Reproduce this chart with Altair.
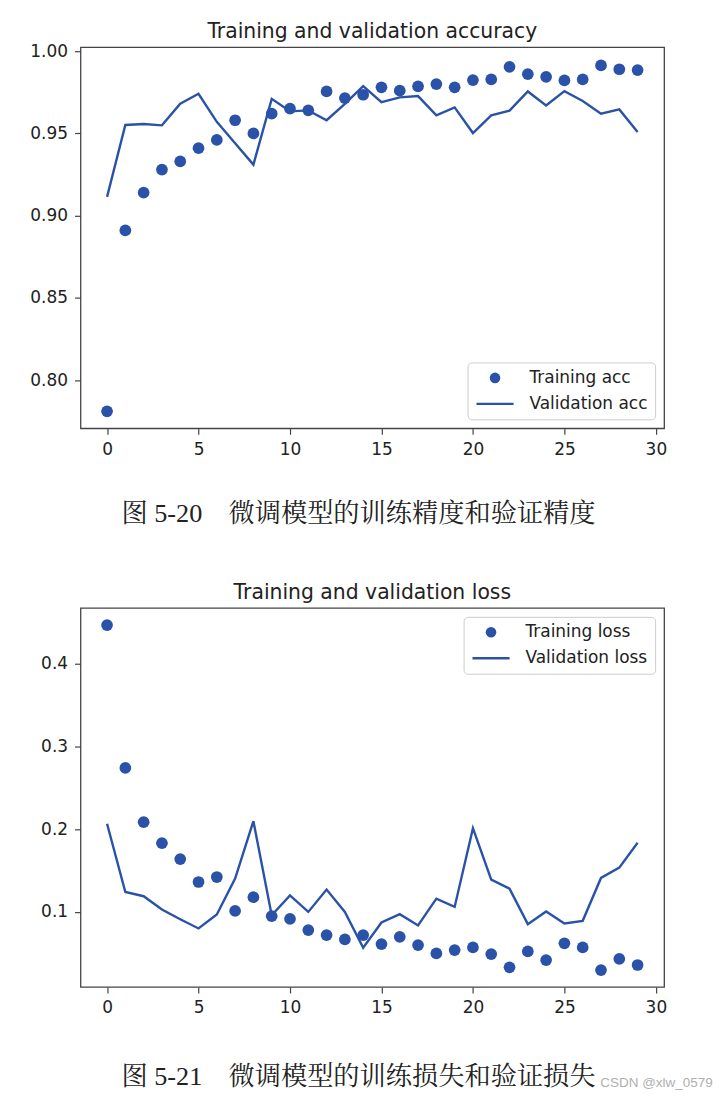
import altair as alt
import pandas as pd

BLUE = "#2a52a8"
FONT = "DejaVu Sans"
CAP_FONT = "'Liberation Serif', 'Noto Serif CJK SC', 'Noto Sans CJK SC'"

epochs = list(range(30))
train_acc = [0.781, 0.891, 0.914, 0.928, 0.933, 0.941, 0.946, 0.958, 0.950, 0.962,
             0.965, 0.964, 0.9755, 0.9715, 0.9735, 0.978, 0.976, 0.9786, 0.980, 0.978,
             0.9824, 0.9828, 0.9905, 0.986, 0.9844, 0.9822, 0.9828, 0.9913, 0.989, 0.9885]
val_acc = [0.9114, 0.9551, 0.9557, 0.9549, 0.968, 0.9741, 0.957, 0.944, 0.931, 0.971,
           0.9634, 0.964, 0.958, 0.968, 0.9788, 0.969, 0.9719, 0.9727, 0.961, 0.9658,
           0.9502, 0.961, 0.9638, 0.9755, 0.967, 0.9757, 0.9697, 0.962, 0.9646, 0.9508]
train_loss = [0.4462, 0.2738, 0.2083, 0.183, 0.1638, 0.1361, 0.1421, 0.1012, 0.1177, 0.0948,
              0.0916, 0.078, 0.072, 0.0668, 0.072, 0.0611, 0.0699, 0.0599, 0.0499, 0.0539,
              0.0571, 0.0491, 0.0331, 0.0523, 0.0419, 0.062, 0.0571, 0.0298, 0.0434, 0.0359]
val_loss = [0.2064, 0.124, 0.1189, 0.1029, 0.0912, 0.08, 0.0969, 0.1402, 0.2095, 0.096,
            0.120, 0.100, 0.127, 0.100, 0.0567, 0.0872, 0.0972, 0.0836, 0.116, 0.106,
            0.2011, 0.139, 0.128, 0.0852, 0.1005, 0.086, 0.0892, 0.141, 0.1534, 0.1835]

x_ticks = [0, 5, 10, 15, 20, 25, 30]
acc_ticks = [0.80, 0.85, 0.90, 0.95, 1.00]
loss_ticks = [0.1, 0.2, 0.3, 0.4]

titles = ["Training and validation accuracy", "Training and validation loss"]
series_acc = ["Training acc", "Validation acc"]
series_loss = ["Training loss", "Validation loss"]
captions = ["图 5-20\u3000微调模型的训练精度和验证精度", "图 5-21\u3000微调模型的训练损失和验证损失"]
watermark = ["CSDN @xlw_0579"]

W = 585


def panel(train, val, names, field, title, ydom, yticks, yfmt, caption, height, orient,
          cap_dy, extra=None):
    df_t = pd.DataFrame({"epoch": epochs, "value": train, field: names[0]})
    df_v = pd.DataFrame({"epoch": epochs, "value": val})
    x = alt.X("epoch:Q", scale=alt.Scale(domain=[-1.45, 30.45], nice=False, zero=False),
              axis=alt.Axis(values=x_ticks, format="d", title=None, labelFlush=False))
    y = alt.Y("value:Q", scale=alt.Scale(domain=ydom, nice=False, zero=False),
              axis=alt.Axis(values=yticks, format=yfmt, title=None))
    pts = alt.Chart(df_t).mark_point(filled=True, size=138, color=BLUE, opacity=1).encode(
        x=x, y=y,
        shape=alt.Shape(f"{field}:N",
                        scale=alt.Scale(domain=names,
                                        range=["circle", "M-3.5,-0.23H3.5V0.23H-3.5Z"]),
                        legend=alt.Legend(title=None, orient=orient, offset=9, padding=7,
                                          strokeColor="#cccccc", fillColor="white",
                                          cornerRadius=4, labelFontSize=17, labelFont=FONT,
                                          labelColor="#222222", symbolSize=113,
                                          symbolFillColor=BLUE, symbolStrokeWidth=0,
                                          symbolOffset=12, labelOffset=26, rowPadding=8)))
    line = alt.Chart(df_v).mark_line(color=BLUE, strokeWidth=2.4).encode(x=x, y=y)
    ttl = alt.Chart(pd.DataFrame({"t": [title]})).mark_text(
        font=FONT, fontSize=20.4, color="#222222", align="center", baseline="alphabetic"
    ).encode(text="t:N", x=alt.value(W / 2), y=alt.value(-9))
    cap = alt.Chart(pd.DataFrame({"t": [caption]})).mark_text(
        font=CAP_FONT, fontSize=26.3, color="#222222", align="left", baseline="middle"
    ).encode(text="t:N", x=alt.value(41), y=alt.value(height + cap_dy))
    layers = [pts, line, ttl, cap]
    if extra is not None:
        layers.append(extra)
    return alt.layer(*layers).properties(width=W, height=height)


wm = alt.Chart(pd.DataFrame({"t": watermark})).mark_text(
    font="Liberation Sans", fontSize=13.5, color="#b0b0b0", align="left", baseline="middle"
).encode(text="t:N", x=alt.value(521), y=alt.value(476))

top = panel(train_acc, val_acc, series_acc, "acc_series", titles[0], [0.7707, 1.0024],
            acc_ticks, ".2f", captions[0], 382, "bottom-right", 86)
bottom = panel(train_loss, val_loss, series_loss, "loss_series", titles[1], [0.0094, 0.467],
               loss_ticks, ".1f", captions[1], 380, "top-right", 90, extra=wm)

chart = alt.vconcat(top, bottom, spacing=180, bounds="flush").resolve_scale(
    shape="independent"
).resolve_legend(shape="independent").properties(
    padding={"left": 20.7, "top": 12, "right": 0, "bottom": 0}
).configure(background="white").configure_view(
    stroke="#444444", strokeWidth=1.3
).configure_axis(
    domain=False, grid=False, tickSize=6, tickColor="#444444", tickWidth=1.2,
    labelFontSize=17, labelFont=FONT, labelColor="#222222", labelPadding=7
)

chart.save("out.html", embed_options={"renderer": "svg", "actions": False})
